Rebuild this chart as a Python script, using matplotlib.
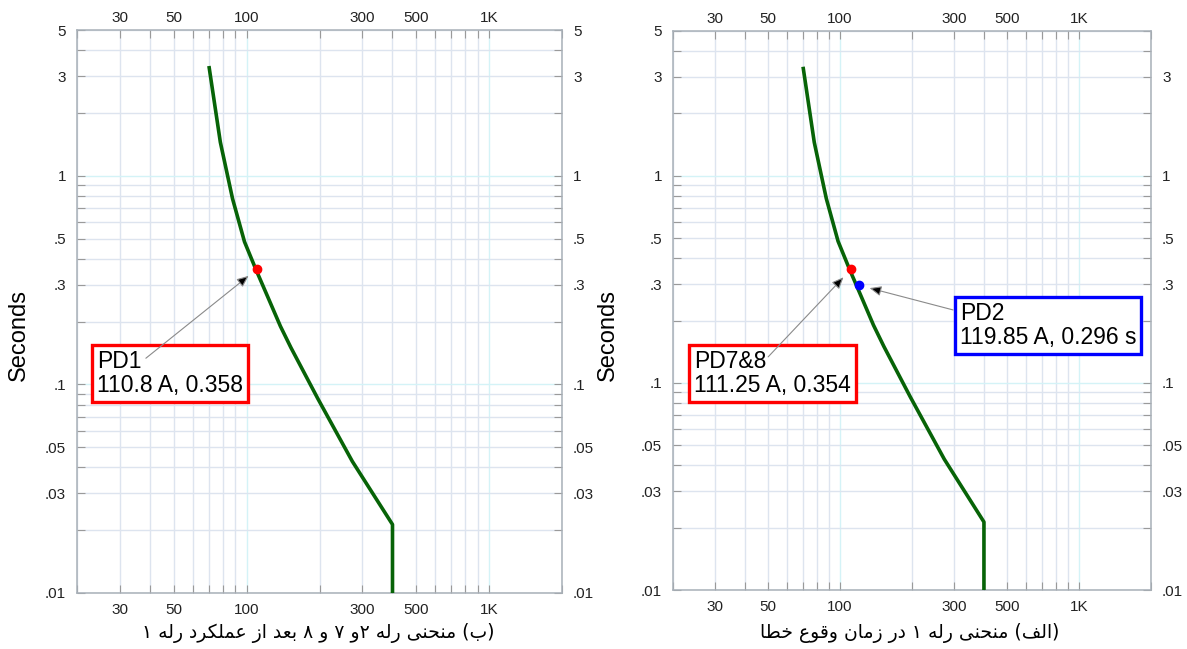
import matplotlib
matplotlib.use('Agg')
import matplotlib.pyplot as plt
from matplotlib.ticker import FixedLocator, FixedFormatter, NullLocator
from matplotlib.transforms import ScaledTranslation

# curve of relay (current in A, time in s)
curve_amps = [70, 78, 87.6, 98.1, 109.4, 123.2, 138, 152.5, 196.8, 273, 400, 400]
curve_secs = [3.36, 1.45, 0.776, 0.483, 0.355, 0.258, 0.19, 0.15, 0.0855, 0.0428, 0.0213, 0.01]

# operating points
pd1_amp, pd1_sec = 110.8, 0.358
pd78_amp, pd78_sec = 111.25, 0.354
pd2_amp, pd2_sec = 119.85, 0.296

x_grid = [20, 30, 40, 50, 60, 70, 80, 90, 100, 200, 300, 400, 500, 600, 700, 800, 900, 1000, 2000]
x_labels = {30: '30', 50: '50', 100: '100', 300: '300', 500: '500', 1000: '1K'}
y_grid = [0.01, 0.02, 0.03, 0.04, 0.05, 0.06, 0.07, 0.08, 0.09, 0.1, 0.2, 0.3, 0.4, 0.5,
          0.6, 0.7, 0.8, 0.9, 1, 2, 3, 4, 5]
y_labels = {0.01: '.01', 0.03: '.03', 0.05: '.05', 0.1: '.1', 0.3: '.3', 0.5: '.5', 1: '1', 3: '3', 5: '5'}

caption_b = '(ب) منحنی رله ۲و ۷ و ۸ بعد از عملکرد رله ۱'
caption_a = '(الف) منحنی رله ۱ در زمان وقوع خطا'

# simple arabic/persian shaping (matplotlib has no complex text layout)
FORMS = {
    'ا': ('\uFE8D', '\uFE8E', None, None), 'د': ('\uFEA9', '\uFEAA', None, None),
    'ر': ('\uFEAD', '\uFEAE', None, None), 'ز': ('\uFEAF', '\uFEB0', None, None),
    'و': ('\uFEED', '\uFEEE', None, None),
    'ب': ('\uFE8F', '\uFE90', '\uFE91', '\uFE92'), 'ح': ('\uFEA1', '\uFEA2', '\uFEA3', '\uFEA4'),
    'خ': ('\uFEA5', '\uFEA6', '\uFEA7', '\uFEA8'), 'ط': ('\uFEC1', '\uFEC2', '\uFEC3', '\uFEC4'),
    'ع': ('\uFEC9', '\uFECA', '\uFECB', '\uFECC'), 'ف': ('\uFED1', '\uFED2', '\uFED3', '\uFED4'),
    'ق': ('\uFED5', '\uFED6', '\uFED7', '\uFED8'), 'ک': ('\uFB8E', '\uFB8F', '\uFB90', '\uFB91'),
    'ل': ('\uFEDD', '\uFEDE', '\uFEDF', '\uFEE0'), 'م': ('\uFEE1', '\uFEE2', '\uFEE3', '\uFEE4'),
    'ن': ('\uFEE5', '\uFEE6', '\uFEE7', '\uFEE8'), 'ه': ('\uFEE9', '\uFEEA', '\uFEEB', '\uFEEC'),
    'ی': ('\uFBFC', '\uFBFD', '\uFBFE', '\uFBFF'),
}


def shape(s):
    out = []
    for i, c in enumerate(s):
        if c not in FORMS:
            out.append(c)
            continue
        prev = s[i - 1] if i > 0 else ''
        nxt = s[i + 1] if i + 1 < len(s) else ''
        join_prev = prev in FORMS and FORMS[prev][2] is not None
        join_next = FORMS[c][2] is not None and nxt in FORMS
        f = FORMS[c]
        if join_prev and join_next:
            out.append(f[3])
        elif join_prev:
            out.append(f[1])
        elif join_next:
            out.append(f[2])
        else:
            out.append(f[0])
    vis = ''.join(reversed(out))
    return vis.translate(str.maketrans('()', ')('))


plt.rcParams['font.family'] = ['Liberation Sans', 'DejaVu Sans']

fig = plt.figure(figsize=(11.87, 6.49), dpi=100)
ax_l = fig.add_axes([77 / 1187, 56 / 649, 485 / 1187, 563 / 649])
ax_r = fig.add_axes([673 / 1187, 59 / 649, 478 / 1187, 559 / 649])


def setup(ax):
    ax.set_xscale('log')
    ax.set_yscale('log')
    ax.set_xlim(20, 2000)
    ax.set_ylim(0.01, 5)
    ax.xaxis.set_major_locator(FixedLocator(x_grid))
    ax.xaxis.set_major_formatter(FixedFormatter([x_labels.get(v, '') for v in x_grid]))
    ax.yaxis.set_major_locator(FixedLocator(y_grid))
    ax.yaxis.set_major_formatter(FixedFormatter([y_labels.get(v, '') for v in y_grid]))
    ax.xaxis.set_minor_locator(NullLocator())
    ax.yaxis.set_minor_locator(NullLocator())
    for v in x_grid:
        c = '#d4f3f7' if v in (100, 1000) else '#dde4ef'
        ax.axvline(v, color=c, lw=1.0, zorder=0)
    for v in y_grid:
        c = '#d4f3f7' if v in (0.1, 1) else '#dde4ef'
        ax.axhline(v, color=c, lw=1.0, zorder=0)
    ax.tick_params(axis='both', which='major', direction='in', length=6, width=0.8,
                   color='#9a9a9a', labelsize=11, labelcolor='#222222', top=True,
                   right=True, labeltop=True, labelright=True)
    ax.tick_params(axis='y', pad=8)
    ax.tick_params(axis='x', pad=7.5)
    for s in ax.spines.values():
        s.set_color('#a8b0b8')
        s.set_linewidth(1.1)
    ax.plot(curve_amps, curve_secs, color='#076307', lw=2.6, zorder=3,
            solid_capstyle='butt')
    ax.set_ylabel('Seconds', fontsize=17)


def box_note(ax, text, tx, ty, color, tail, point):
    ax.text(tx, ty, text, transform=ax.transAxes, ha='left', va='top', fontsize=16.5,
            linespacing=1.05, zorder=6,
            bbox=dict(boxstyle='square,pad=0.22', fc='white', ec=color, lw=2.4))
    ax.annotate('', xy=point, xycoords='data', xytext=tail, textcoords='axes fraction',
                arrowprops=dict(arrowstyle='-|>,head_length=0.7,head_width=0.3',
                                fc='black', ec='#8a8a8a', lw=0.8, shrinkA=0, shrinkB=8),
                zorder=7)


setup(ax_l)
setup(ax_r)

ax_l.plot([pd1_amp], [pd1_sec], 'o', color='red', ms=6, zorder=5)
box_note(ax_l, 'PD1\n110.8 A, 0.358', 0.041, 0.432, 'red', (0.142, 0.417), (pd1_amp, pd1_sec))
ax_l.yaxis.set_label_coords(-0.097, 0.458)

ax_r.plot([pd78_amp], [pd78_sec], 'o', color='red', ms=6, zorder=5)
ax_r.plot([pd2_amp], [pd2_sec], 'o', color='blue', ms=6, zorder=5)
box_note(ax_r, 'PD7&8\n111.25 A, 0.354', 0.044, 0.430, 'red', (0.199, 0.417), (pd78_amp, pd78_sec))
box_note(ax_r, 'PD2\n119.85 A, 0.296 s', 0.600, 0.515, 'blue', (0.586, 0.501), (pd2_amp, pd2_sec))
ax_r.yaxis.set_label_coords(-0.113, 0.456)

fig.canvas.draw()
# right panel has no "5" on its right side
for t, v in zip(ax_r.yaxis.get_major_ticks(), y_grid):
    if v == 5:
        t.label2.set_visible(False)
# top tick labels sit a little closer to the frame
shift = ScaledTranslation(0, -5 / 100, fig.dpi_scale_trans)
for ax in (ax_l, ax_r):
    for t in ax.xaxis.get_major_ticks():
        t.label2.set_transform(t.label2.get_transform() + shift)

fig.text(318 / 1187, 1 - 633 / 649, shape(caption_b), ha='center', va='center',
         fontsize=13.5, family=['DejaVu Sans'])
fig.text(910 / 1187, 1 - 633 / 649, shape(caption_a), ha='center', va='center',
         fontsize=13.5, family=['DejaVu Sans'])

fig.savefig('out.png', dpi=100)
